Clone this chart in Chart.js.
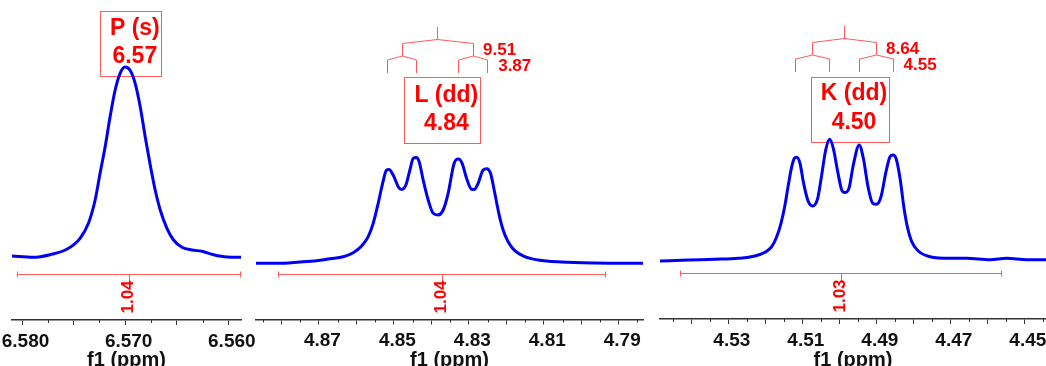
<!DOCTYPE html>
<html>
<head>
<meta charset="utf-8">
<script src="https://cdn.jsdelivr.net/npm/chart.js@4.4.1/dist/chart.umd.min.js"></script>
<style>
  html, body { margin: 0; padding: 0; background: #fff; }
  #wrap { position: relative; width: 1046px; height: 366px; overflow: hidden; }
  #wrap canvas { position: absolute; left: 0; top: 0; }
</style>
</head>
<body>
<div id="wrap">
  <canvas id="p1" width="1046" height="366"></canvas>
  <canvas id="p2" width="1046" height="366"></canvas>
  <canvas id="p3" width="1046" height="366"></canvas>
</div>
<script>
// P (s) 6.57 - shift in ppm, intensity
var ppmP = [6.58097, 6.5789, 6.57728, 6.57566, 6.57437, 6.57356, 6.57291, 6.57243, 6.57194, 6.57146,
  6.57097, 6.57049, 6.5700, 6.56951, 6.56903, 6.56854, 6.56806, 6.56757, 6.56709, 6.5666,
  6.56595, 6.56531, 6.56449, 6.56352, 6.56255, 6.56143, 6.56013, 6.55877];
var intP = [4, 2.7, 5.3, 10.7, 21.7, 36.7, 60, 86.7, 113.3, 143.3,
  170, 186.7, 193, 189.5, 176.7, 153.3, 123.3, 95, 70, 50,
  31.7, 20, 12.7, 10, 8.7, 5.3, 3, 2.7];

// L (dd) 4.84
var ppmL = [4.8868, 4.88128, 4.87507, 4.87061, 4.86707, 4.86352, 4.86085, 4.85861, 4.85685, 4.85552,
  4.85419, 4.85301, 4.85195, 4.85133, 4.85019, 4.84885, 4.84795, 4.8468, 4.84573, 4.84485,
  4.84405, 4.84325, 4.84219, 4.84085, 4.83952, 4.83819, 4.83685, 4.83552, 4.83392, 4.83275,
  4.83179, 4.83061, 4.82928, 4.82859, 4.82752, 4.82619, 4.8252, 4.82421, 4.82307, 4.822,
  4.82085, 4.81952, 4.81773, 4.81507, 4.81152, 4.80528, 4.7964, 4.78352];
var intL = [-3.3, -3.3, -2, -0.7, 1.3, 3.3, 7.3, 14, 23.3, 36.7,
  56.7, 76.7, 90, 90.5, 85, 73.3, 70.5, 75, 90, 101.7,
  102.5, 98.3, 80, 60, 46.7, 45, 50, 66.7, 96.7, 101,
  96.7, 81.7, 70.7, 70.5, 76.7, 90, 91.3, 86.7, 66.7, 46.7,
  30, 18.3, 9.3, 3.3, 0, -2, -3, -3.3];

// K (dd) 4.50
var ppmK = [4.54846, 4.54081, 4.53359, 4.5273, 4.52278, 4.52008, 4.51827, 4.51692, 4.51576, 4.51468,
  4.51378, 4.51286, 4.51216, 4.51151, 4.51062, 4.50973, 4.50854, 4.50724, 4.50584, 4.50476,
  4.50368, 4.50259, 4.50162, 4.50043, 4.49935, 4.49854, 4.49738, 4.49622, 4.49462, 4.49351,
  4.49216, 4.49097, 4.48995, 4.48873, 4.48738, 4.4863, 4.48549, 4.48468, 4.48359, 4.48251,
  4.48162, 4.48043, 4.47865, 4.47549, 4.47008, 4.46557, 4.45927, 4.45476, 4.44935, 4.44414];
var intK = [-1, 0, 0.7, 1.7, 4, 7.7, 13.3, 23.3, 36.7, 55,
  75, 93.3, 101.7, 102.8, 96.7, 78.3, 60, 54, 61.7, 85,
  110, 120.7, 111.7, 88.3, 70, 67.5, 71.7, 95, 115, 101.7,
  71.7, 56.7, 55.8, 63.3, 88.3, 103.3, 105, 101.7, 81.7, 51.7,
  33.3, 18.3, 9, 3.3, 1.7, 1.7, 0.3, 1.7, 0.3, 0.3];

// peak labels, integrals and couplings (Hz)
var namesP = ['P (s)', '6.57'];
var namesL = ['L (dd)', '4.84'];
var namesK = ['K (dd)', '4.50'];
var integrals = ['1.04', '1.04', '1.03'];
var couplingsL = [9.51, 3.87];
var couplingsK = [8.64, 4.55];
var MHZ = 500;

var FONT = "'Liberation Sans', Arial, sans-serif";
var RED = '#ff0000';
var RED_LINE = '#ff5a5a';
var AXIS = '#333333';
var BLUE = '#0000f2';

function isMultiple(v, step) {
  var q = v / step;
  return Math.abs(q - Math.round(q)) < 1e-6;
}
function sharp(x) { return Math.round(x) + 0.5; }

var marks = {
  id: 'marks',
  beforeDatasetsDraw: function (chart, args, o) {
    var ctx = chart.ctx, sx = chart.scales.x;
    var px = function (v) { return sx.getPixelForValue(v); };
    ctx.save();
    ctx.strokeStyle = RED_LINE;
    ctx.lineWidth = 1;
    ctx.fillStyle = RED;

    // assignment box
    var b = o.box;
    var bx = px(b.at);
    ctx.strokeRect(sharp(bx - b.w / 2), b.top + 0.5, b.w, b.h);
    ctx.font = 'bold 23px ' + FONT;
    ctx.textAlign = 'center';
    ctx.textBaseline = 'middle';
    ctx.fillText(b.text[0], bx + 4.5, b.ly[0]);
    ctx.fillText(b.text[1], bx + 4.5, b.ly[1]);

    // integral bracket
    var g = o.integral;
    var x1 = sharp(px(g.from)), x2 = sharp(px(g.to)), xm = sharp((x1 + x2) / 2), y = g.y + 0.5;
    ctx.beginPath();
    ctx.moveTo(x1, y); ctx.lineTo(x2, y);
    ctx.moveTo(x1, y - 3); ctx.lineTo(x1, y + 3);
    ctx.moveTo(x2, y - 3); ctx.lineTo(x2, y + 3);
    ctx.moveTo(xm, y); ctx.lineTo(xm, y + 8);
    ctx.stroke();
    ctx.save();
    ctx.translate(xm - 1.5, g.y + 23);
    ctx.rotate(-Math.PI / 2);
    ctx.font = 'bold 17px ' + FONT;
    ctx.fillText(g.label, 0, 0);
    ctx.restore();

    // multiplet tree
    if (o.tree) {
      var t = o.tree, c = t.center, T = t.top;
      var h1 = t.j[0] / MHZ / 2, h2 = t.j[1] / MHZ / 2;
      var xc = sharp(px(c));
      ctx.beginPath();
      ctx.moveTo(xc, T); ctx.lineTo(xc, T + 12.5);
      [c + h1, c - h1].forEach(function (v) {
        var xv = sharp(px(v));
        ctx.moveTo(xc, T + 12.5); ctx.lineTo(xv, T + 16.5); ctx.lineTo(xv, T + 29);
        [v + h2, v - h2].forEach(function (w) {
          var xw = sharp(px(w));
          ctx.moveTo(xv, T + 29); ctx.lineTo(xw, T + 33); ctx.lineTo(xw, T + 46);
        });
      });
      ctx.stroke();
      ctx.font = 'bold 17px ' + FONT;
      ctx.textAlign = 'left';
      ctx.fillText(t.j[0].toFixed(2), px(c - h1) + 10, T + 23);
      ctx.fillText(t.j[1].toFixed(2), px(c - h1 - h2) + 10.7, T + 39.5);
    }
    ctx.restore();
  },
  afterDraw: function (chart, args, o) {
    // short minor ticks
    var sx = chart.scales.x, ctx = chart.ctx;
    ctx.save();
    ctx.strokeStyle = AXIS;
    ctx.lineWidth = 1;
    ctx.beginPath();
    sx.ticks.forEach(function (t) {
      if (isMultiple(t.value, o.major)) return;
      var x = sharp(sx.getPixelForValue(t.value));
      ctx.moveTo(x, sx.top); ctx.lineTo(x, sx.top + 3);
    });
    ctx.stroke();
    ctx.restore();
  }
};

var panels = [
  {id: 'p1', ppm: ppmP, val: intP, min: 6.55877, max: 6.58097, padL: 12, padR: 805, axisH: 46, yMin: -60,
    step: 0.0025, major: 0.005, label: 0.01, labelFrom: 0, digits: 3,
    box: {at: 6.5695, w: 61, top: 11, h: 65, text: namesP, ly: [28.5, 56.5]},
    integral: {from: 6.58049, to: 6.55883, y: 274, label: integrals[0]},
    tree: null},
  {id: 'p2', ppm: ppmL, val: intL, min: 4.78352, max: 4.8868, padL: 256, padR: 403, axisH: 46.5, yMin: -59.5,
    step: 0.005, major: 0.01, label: 0.02, labelFrom: 0.01, digits: 2,
    box: {at: 4.8372, w: 76, top: 77, h: 66, text: namesL, ly: [96, 124]},
    integral: {from: 4.88085, to: 4.79363, y: 274, label: integrals[1]},
    tree: {center: 4.8384, j: couplingsL, top: 27}},
  {id: 'p3', ppm: ppmK, val: intK, min: 4.44414, max: 4.54846, padL: 660, padR: 0, axisH: 47, yMin: -59,
    step: 0.005, major: 0.01, label: 0.02, labelFrom: 0.01, digits: 2,
    box: {at: 4.49724, w: 78, top: 77, h: 65, text: namesK, ly: [94, 122.5]},
    integral: {from: 4.54305, to: 4.45622, y: 273, label: integrals[2]},
    tree: {center: 4.4987, j: couplingsK, top: 26}}
];

panels.forEach(function (p) {
  var points = p.ppm.map(function (x, i) { return {x: x, y: p.val[i]}; });
  new Chart(document.getElementById(p.id).getContext('2d'), {
    type: 'line',
    data: {
      datasets: [{
        data: points,
        borderColor: BLUE,
        borderWidth: 3,
        pointRadius: 0,
        fill: false,
        cubicInterpolationMode: 'monotone'
      }]
    },
    plugins: [marks],
    options: {
      responsive: false,
      animation: false,
      devicePixelRatio: 1,
      events: [],
      layout: {padding: {left: p.padL, right: p.padR, top: 0, bottom: 0}},
      plugins: {
        legend: {display: false},
        tooltip: {enabled: false},
        marks: {box: p.box, integral: p.integral, tree: p.tree, major: p.major}
      },
      scales: {
        x: {
          type: 'linear',
          reverse: true,
          min: p.min,
          max: p.max,
          border: {display: true, color: AXIS, width: 1.5},
          grid: {
            drawOnChartArea: false,
            drawTicks: true,
            tickLength: 5,
            tickColor: function (c) {
              return c.tick && isMultiple(c.tick.value, p.major) ? AXIS : 'rgba(0,0,0,0)';
            }
          },
          ticks: {
            stepSize: p.step,
            includeBounds: false,
            autoSkip: false,
            maxRotation: 0,
            minRotation: 0,
            padding: 5,
            labelOffset: 3.5,
            color: '#111111',
            font: {family: FONT, size: 19, weight: 'bold'},
            callback: function (v) {
              return isMultiple(v - p.labelFrom, p.label) ? v.toFixed(p.digits) : '';
            }
          },
          title: {
            display: true,
            text: 'f1 (ppm)',
            color: '#111111',
            font: {family: FONT, size: 20, weight: 'bold'},
            padding: {top: 0, bottom: -6}
          },
          afterFit: function (s) {
            s.paddingLeft = 0;
            s.paddingRight = 0;
            s.height = p.axisH;
          }
        },
        y: {display: false, min: p.yMin, max: 260}
      }
    }
  });
});
</script>
</body>
</html>
